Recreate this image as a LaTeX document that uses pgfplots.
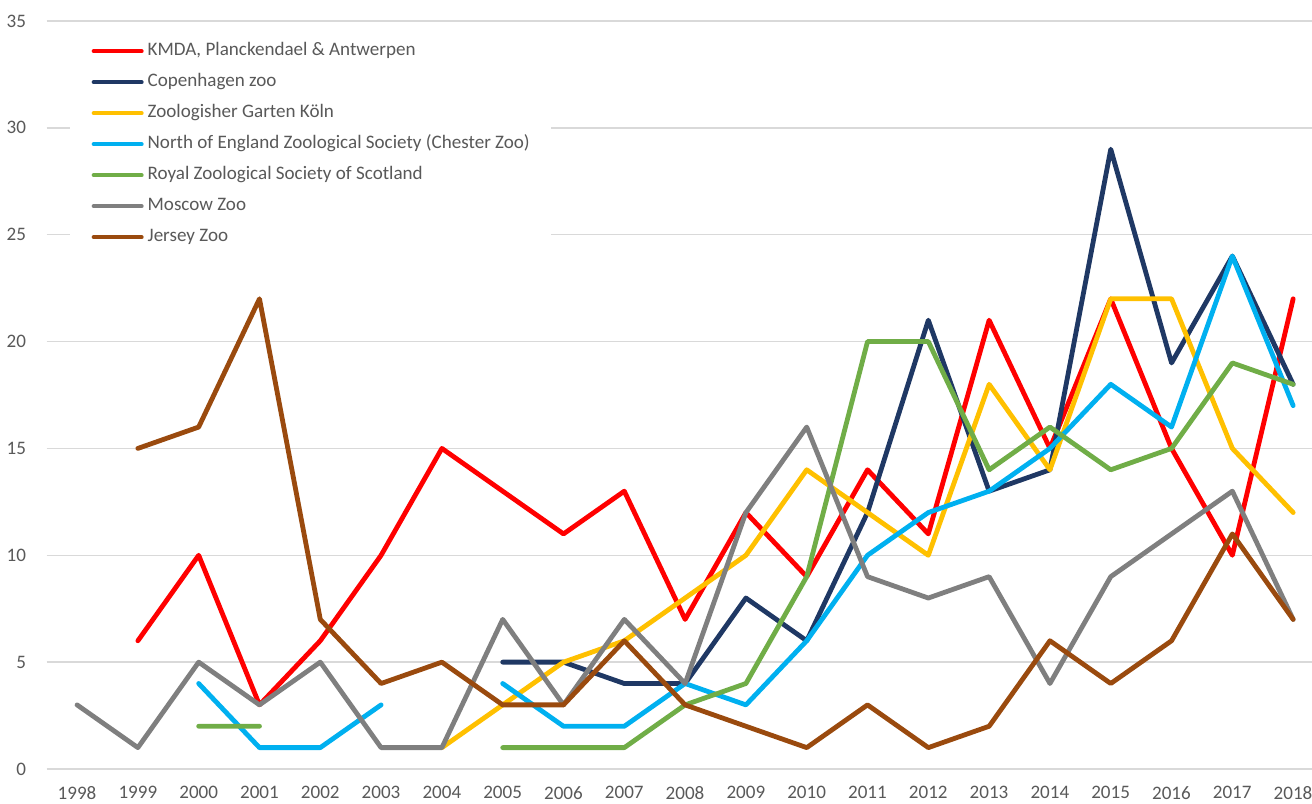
\documentclass[border=0pt]{standalone}
\usepackage{fontspec}
\setmainfont{Carlito}
\usepackage{pgfplots}
\pgfplotsset{compat=1.18}
\definecolor{cRed}{HTML}{FF0000}
\definecolor{cNavy}{HTML}{1F3864}
\definecolor{cYellow}{HTML}{FFC000}
\definecolor{cBlue}{HTML}{00B0F0}
\definecolor{cGreen}{HTML}{70AD47}
\definecolor{cGray}{HTML}{7F7F7F}
\definecolor{cBrown}{HTML}{9A4A0E}
\definecolor{cGrid}{HTML}{D9D9D9}
\definecolor{cText}{HTML}{595959}
\begin{document}
\begin{tikzpicture}
\begin{axis}[
  scale only axis, width=949pt, height=561pt,
  xmin=1997.5, xmax=2018.31, ymin=0, ymax=35,
  xtick={1998,...,2018}, ytick={0,5,...,35},
  /pgf/number format/1000 sep={},
  /pgf/number format/assume math mode=true,
  ymajorgrids, grid style={cGrid, line width=1pt},
  axis line style={draw=none},
  major tick length=0pt,
  tick label style={font=\fontsize{14.3}{16}\selectfont, text=cText},
  xticklabel style={yshift=-9.5pt},
  yticklabel style={xshift=-12pt},
  unbounded coords=jump,
  every axis plot/.append style={line width=3.6pt, line join=round, line cap=round, no markers},
  legend cell align=left,
  legend style={at={(axis description cs:0.0185,0.993)}, anchor=north west, fill=white, draw=none,
    font=\fontsize{14.3}{14}\selectfont, text=cText, inner xsep=16pt, inner ysep=12pt,
    row sep=10.25pt, column sep=3pt,
    nodes={inner sep=0pt, text height=10pt, text depth=3pt}},
  legend image code/.code={\draw[#1, line width=3pt] (0pt,0pt) -- (36pt,0pt);},
]
\addplot[cRed] coordinates {(1999,6)(2000,10)(2001,3)(2002,6)(2003,10)(2004,15)(2005,13)(2006,11)(2007,13)(2008,7)(2009,12)(2010,9)(2011,14)(2012,11)(2013,21)(2014,15)(2015,22)(2016,15)(2017,10)(2018,22)};
\addlegendentry{KMDA, Planckendael \& Antwerpen}
\addplot[cNavy] coordinates {(2005,5)(2006,5)(2007,4)(2008,4)(2009,8)(2010,6)(2011,12)(2012,21)(2013,13)(2014,14)(2015,29)(2016,19)(2017,24)(2018,18)};
\addlegendentry{Copenhagen zoo}
\addplot[cYellow] coordinates {(2004,1)(2005,3)(2006,5)(2007,6)(2008,8)(2009,10)(2010,14)(2011,12)(2012,10)(2013,18)(2014,14)(2015,22)(2016,22)(2017,15)(2018,12)};
\addlegendentry{Zoologisher Garten Köln}
\addplot[cBlue] coordinates {(2000,4)(2001,1)(2002,1)(2003,3)(2004,nan)(2005,4)(2006,2)(2007,2)(2008,4)(2009,3)(2010,6)(2011,10)(2012,12)(2013,13)(2014,15)(2015,18)(2016,16)(2017,24)(2018,17)};
\addlegendentry{North of England Zoological Society (Chester Zoo)}
\addplot[cGreen] coordinates {(2000,2)(2001,2)(2002,nan)(2005,1)(2006,1)(2007,1)(2008,3)(2009,4)(2010,9)(2011,20)(2012,20)(2013,14)(2014,16)(2015,14)(2016,15)(2017,19)(2018,18)};
\addlegendentry{Royal Zoological Society of Scotland}
\addplot[cGray] coordinates {(1998,3)(1999,1)(2000,5)(2001,3)(2002,5)(2003,1)(2004,1)(2005,7)(2006,3)(2007,7)(2008,4)(2009,12)(2010,16)(2011,9)(2012,8)(2013,9)(2014,4)(2015,9)(2016,11)(2017,13)(2018,7)};
\addlegendentry{Moscow Zoo}
\addplot[cBrown] coordinates {(1999,15)(2000,16)(2001,22)(2002,7)(2003,4)(2004,5)(2005,3)(2006,3)(2007,6)(2008,3)(2009,2)(2010,1)(2011,3)(2012,1)(2013,2)(2014,6)(2015,4)(2016,6)(2017,11)(2018,7)};
\addlegendentry{Jersey Zoo}
\end{axis}
\pgfresetboundingbox
\path[use as bounding box] (-35pt,-25.5pt) rectangle (949pt,576.75pt);
\end{tikzpicture}
\end{document}
